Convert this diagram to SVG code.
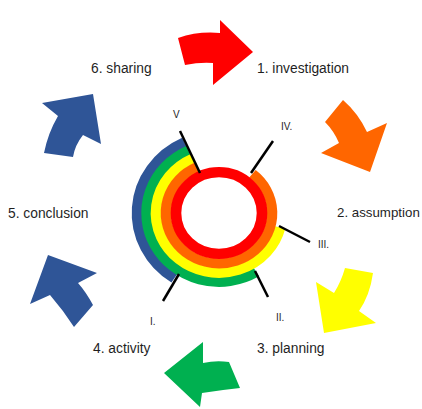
<svg xmlns="http://www.w3.org/2000/svg" width="422" height="409" viewBox="0 0 422 409">
<style>
.lbl{font-family:"Liberation Sans",Arial,sans-serif;font-size:13.8px;fill:#1f1f1f}
.rn{font-family:"Liberation Sans",Arial,sans-serif;font-size:10px;fill:#1f1f1f}
.ring{fill:none;stroke-width:10.6}
.tick{stroke:#000;stroke-width:2.5;fill:none}
</style>
<rect width="422" height="409" fill="#fff"/>
<g id="arrows">
<path id="arrow-red" d="M178,38 Q198,31 220,33 L220,20 L253,52 L213,85 L213,63 Q200,62 185,65 Z" fill="#FF0000"/>
<path id="arrow-orange" d="M325,122 L343,100 Q358,113 367,132 L387,123 L370,172 L321,153 L339,143 Q334,131 325,122 Z" fill="#FF6600"/>
<path id="arrow-yellow" d="M345,268 L373,273 Q370,295 359,311 L376,323 L324,333 L316,282 L334,293 Q341,282 345,268 Z" fill="#FFFF00"/>
<path id="arrow-green" d="M229,362 L240,388 Q221,390 202,393 L200,407 L164,373 L203,342 L203,363 Q216,360 229,362 Z" fill="#00B050"/>
<path id="arrow-blue-low" d="M48,255 L97,273 L78,283 Q86,292 93,305 L74,327 Q63,310 50,295 L30,304 Z" fill="#2F5597"/>
<path id="arrow-blue-up" d="M44,153 L73,157 Q75,145 83,135 L101,144 L93,94 L42,103 L58,116 Q48,133 44,153 Z" fill="#2F5597"/>
</g>
<g id="rings" transform="translate(219,213) scale(1,0.95)">
<path class="ring" stroke="#2F5597" d="M-44.66,68.77 A82,82 0 0 1 -34.65,-74.32"/>
<path class="ring" stroke="#00B050" d="M37.34,62.15 A72.5,72.5 0 1 1 -30.64,-65.71"/>
<path class="ring" stroke="#FFFF00" d="M61.13,15.24 A63,63 0 1 1 -26.62,-57.10"/>
<path class="ring" stroke="#FF6600" d="M33.35,-41.19 A53,53 0 1 1 -22.40,-48.03"/>
<circle class="ring" stroke="#FF0000" r="43" cx="0" cy="0"/>
</g>
<g id="ticks">
<line class="tick" x1="180" y1="131" x2="200" y2="173"/>
<line class="tick" x1="273" y1="141" x2="251" y2="173"/>
<line class="tick" x1="279" y1="226" x2="310" y2="242"/>
<line class="tick" x1="255" y1="271" x2="268" y2="297"/>
<line class="tick" x1="179" y1="274" x2="163" y2="301"/>
</g>
<g id="roman">
<text class="rn" x="173" y="118">V</text>
<text class="rn" x="281" y="130">IV.</text>
<text class="rn" x="318" y="248">III.</text>
<text class="rn" x="276" y="321">II.</text>
<text class="rn" x="150" y="325">I.</text>
</g>
<g id="labels">
<text class="lbl" x="257" y="73">1. investigation</text>
<text class="lbl" x="337" y="217" style="font-size:13.3px">2. assumption</text>
<text class="lbl" x="257" y="353">3. planning</text>
<text class="lbl" x="93" y="353">4. activity</text>
<text class="lbl" x="8" y="218">5. conclusion</text>
<text class="lbl" x="91" y="73">6. sharing</text>
</g>
</svg>
